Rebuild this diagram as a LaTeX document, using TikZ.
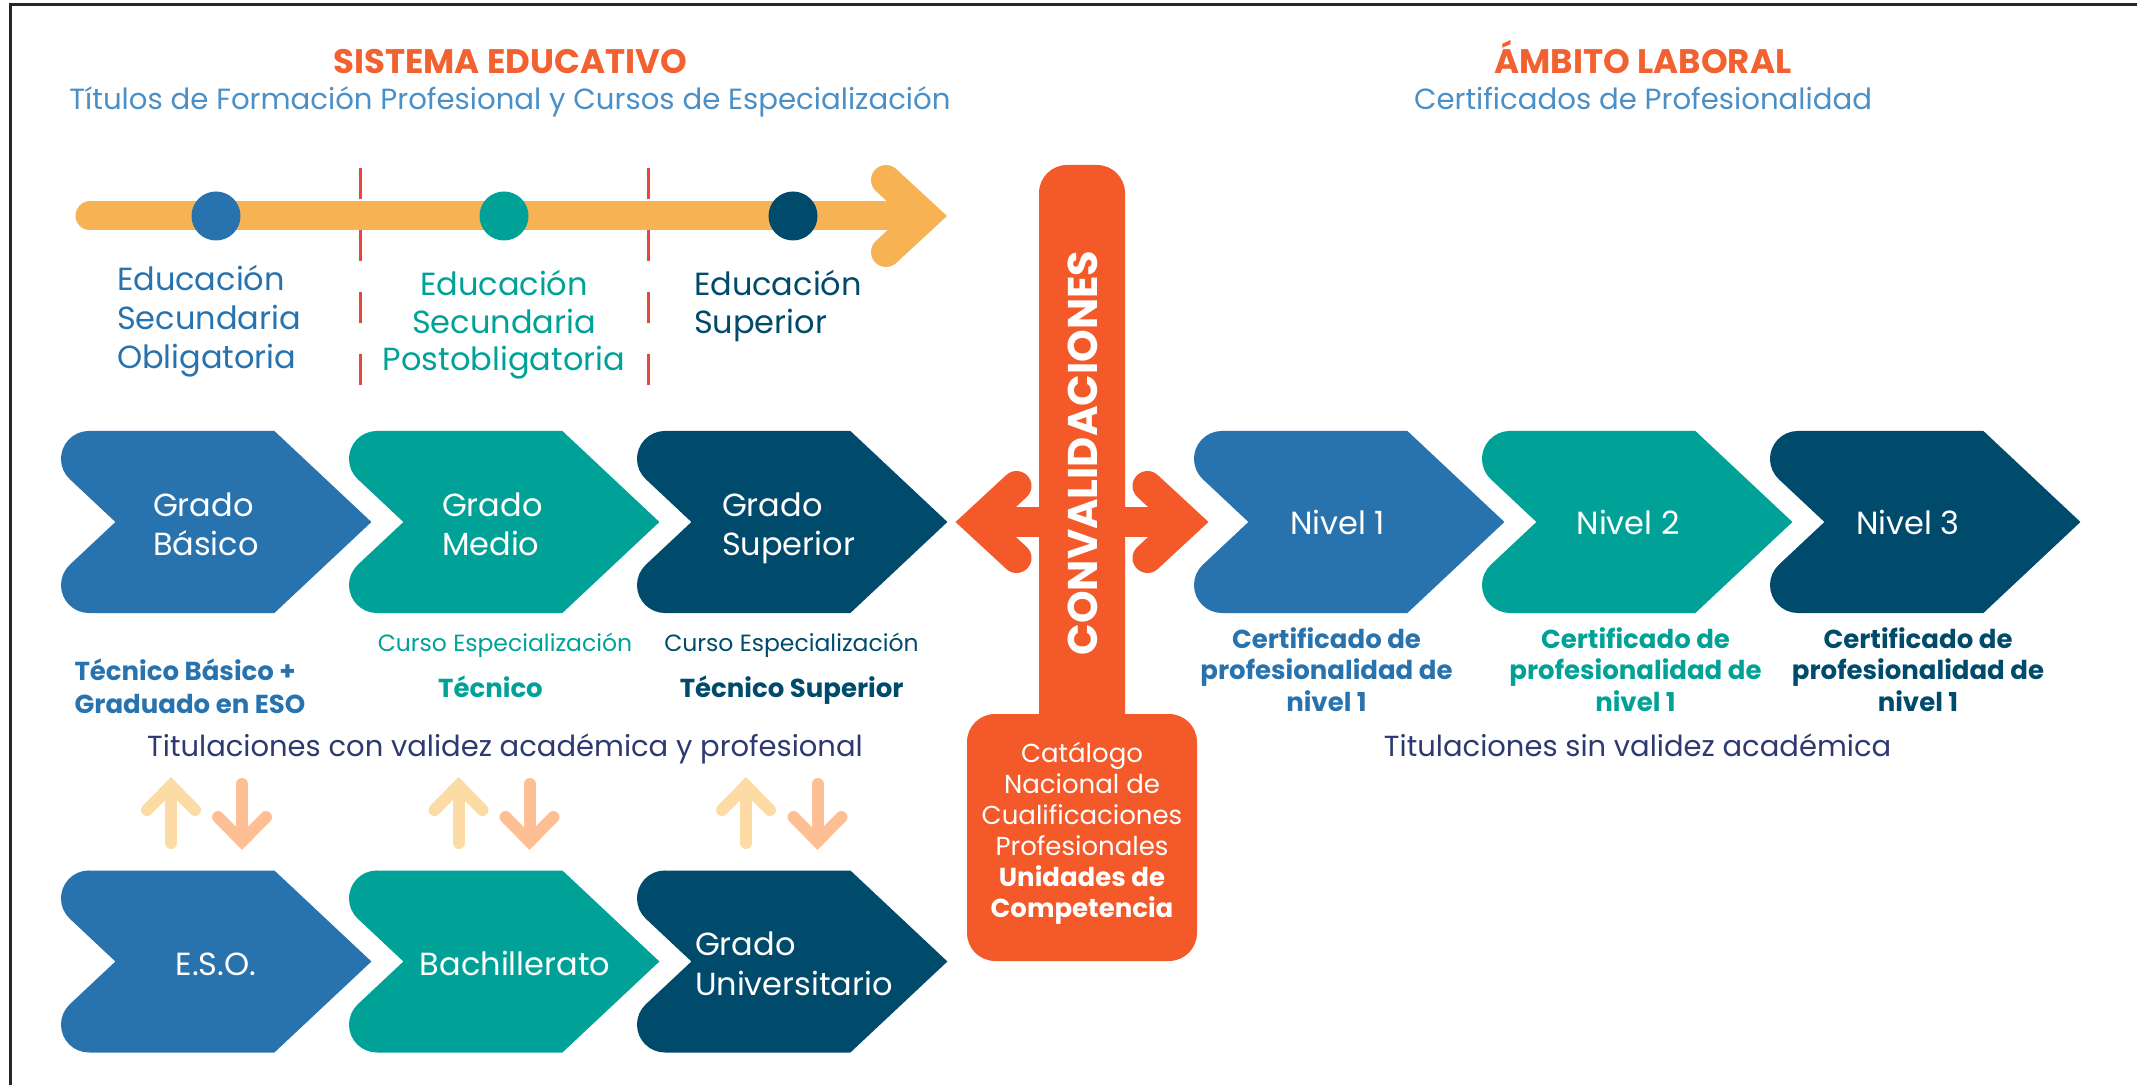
\documentclass[tikz,border=0pt]{standalone}
\usepackage{fontspec}
\setmainfont{Poppins}
\definecolor{blueC}{HTML}{2873AE}
\definecolor{tealC}{HTML}{00A298}
\definecolor{darkC}{HTML}{004B6B}
\definecolor{orangeC}{HTML}{F4592A}
\definecolor{titleC}{HTML}{F26130}
\definecolor{subC}{HTML}{4B8FC7}
\definecolor{navyC}{HTML}{2D3970}
\definecolor{yelC}{HTML}{F7B254}
\definecolor{dashC}{HTML}{E9453F}
\definecolor{upC}{HTML}{FDDBA5}
\definecolor{downC}{HTML}{FFBF95}
\newcommand\fsz[1]{\fontsize{#1}{#1}\selectfont}
% chevron: #1 leftmost x, #2 centre y, #3 colour
\newcommand\chevshape[3]{%
  \fill[#3] ({#1+27.9},{#2-91}) -- ({#1+213.4},{#2-91}) -- ({#1+310.4},#2)
    -- ({#1+213.4},{#2+91}) -- ({#1+27.9},{#2+91})
    arc[start angle=90,end angle=226.83,radius=27.9] -- ({#1+54.4},#2)
    -- ({#1+8.8},{#2-42.8}) arc[start angle=133.17,end angle=270,radius=27.9] -- cycle;}
\newcommand\uparr[1]{%
  \draw[upC,line width=6pt,line cap=round] (#1,843) -- (#1,785.6);
  \draw[upC,line width=6pt,line cap=round,line join=miter] ({#1-24},810) -- (#1,785.6) -- ({#1+24},810);}
\newcommand\downarr[1]{%
  \draw[downC,line width=6pt,line cap=round] (#1,784) -- (#1,841.4);
  \draw[downC,line width=6pt,line cap=round,line join=miter] ({#1-24},817) -- (#1,841.4) -- ({#1+24},817);}
\tikzset{
  txt/.style={inner sep=0pt,outer sep=0pt},
  ttl/.style={txt,anchor=base,text=titleC,font=\fsz{17}\bfseries},
  sub/.style={txt,anchor=base,text=subC,font=\fsz{14.6}},
  edu/.style={txt,font=\fsz{16}},
  chl/.style={txt,text=white,font=\fsz{16}},
  curso/.style={txt,anchor=base,font=\fsz{11.75}},
  bsm/.style={txt,font=\fsz{13}\bfseries},
  tit/.style={txt,anchor=base,text=navyC,font=\fsz{14.5}},
  cat/.style={txt,anchor=base,text=white,font=\fsz{13}},
}
\begin{document}
\begin{tikzpicture}[x=0.5pt,y=-0.5pt]
\useasboundingbox (0,0) rectangle (2137,1085);
% frame
\draw[line width=1.5pt,black!85] (10,1085) -- (10,5) -- (2137,5);
% titles
\node[ttl] (se) at (510,73.3) {SISTEMA EDUCATIVO};
\node[sub] (ses) at (510,110) {Títulos de Formación Profesional y Cursos de Especialización};
\node[ttl] (al) at (1643,73.3) {ÁMBITO LABORAL};
\node[sub] (als) at (1643,110) {Certificados de Profesionalidad};
% timeline
\draw[yelC,line width=14.5pt,line cap=round] (90,216) -- (925,216);
\draw[yelC,line width=15pt,line cap=round,line join=miter] (886,180) -- (924.9,216) -- (886,252);
\draw[dashC,line width=1.5pt,dash pattern=on 15.5pt off 15.5pt] (360,168) -- (360,390);
\draw[dashC,line width=1.5pt,dash pattern=on 15.5pt off 15.5pt] (648,168) -- (648,390);
\fill[blueC] (216,216) circle[radius=24.5];
\fill[tealC] (504,216) circle[radius=24.5];
\fill[darkC] (793,216) circle[radius=24.5];
% education stages
\node[edu,anchor=base west,text=blueC] (e1a) at (117,290.7) {Educación};
\node[edu,anchor=base west,text=blueC] (e1b) at (117,330) {Secundaria};
\node[edu,anchor=base west,text=blueC] (e1c) at (117,368.5) {Obligatoria};
\node[edu,anchor=base,text=tealC] (e2a) at (504,296) {Educación};
\node[edu,anchor=base,text=tealC] (e2b) at (504,333.5) {Secundaria};
\node[edu,anchor=base,text=tealC] (e2c) at (504,371) {Postobligatoria};
\node[edu,anchor=base west,text=darkC] (e3a) at (694,296) {Educación};
\node[edu,anchor=base west,text=darkC] (e3b) at (694,333.5) {Superior};
% row 1 chevrons
\chevshape{61}{522}{blueC}
\chevshape{349}{522}{tealC}
\chevshape{637}{522}{darkC}
\node[chl,anchor=base west] (gb1) at (153,516.7) {Grado};
\node[chl,anchor=base west] (gb2) at (153,555.2) {Básico};
\node[chl,anchor=base west] (gm1) at (442,516.7) {Grado};
\node[chl,anchor=base west] (gm2) at (442,555.2) {Medio};
\node[chl,anchor=base west] (gs1) at (722,516.7) {Grado};
\node[chl,anchor=base west] (gs2) at (722,555.2) {Superior};
% below row 1
\node[curso,text=tealC] (ce1) at (505,651.7) {Curso Especialización};
\node[curso,text=darkC] (ce2) at (791.5,651.7) {Curso Especialización};
\node[bsm,anchor=base west,text=blueC] (tb1) at (74.6,680) {Técnico Básico +};
\node[bsm,anchor=base west,text=blueC] (tb2) at (74.6,713) {Graduado en ESO};
\node[bsm,anchor=base,text=tealC] (tm) at (490.5,697.7) {Técnico};
\node[bsm,anchor=base,text=darkC] (ts) at (791.7,697.7) {Técnico Superior};
\node[tit] (tv1) at (505,756) {Titulaciones con validez académica y profesional};
% up / down arrows
\uparr{171}\downarr{242}
\uparr{458.5}\downarr{529.5}
\uparr{746}\downarr{817.5}
% row 2 chevrons
\chevshape{61}{961.5}{blueC}
\chevshape{349}{961.5}{tealC}
\chevshape{637}{961.5}{darkC}
\node[chl,anchor=base] (eso) at (216,975) {E.S.O.};
\node[chl,anchor=base] (bach) at (515,975) {Bachillerato};
\node[chl,anchor=base west] (gu1) at (695,955) {Grado};
\node[chl,anchor=base west] (gu2) at (695,995) {Universitario};
% convalidaciones
\fill[orangeC,rounded corners=14pt] (1039,730) -- (1039,165) -- (1125,165) -- (1125,730);
\fill[orangeC,rounded corners=14pt] (967,714) rectangle (1197,961);
\draw[orangeC,line width=15pt] (977,522) -- (1187,522);
\draw[orangeC,line width=15pt,line cap=round,line join=miter] (1016.5,486) -- (977.6,522) -- (1016.5,558);
\draw[orangeC,line width=15pt,line cap=round,line join=miter] (1147.5,486) -- (1186.4,522) -- (1147.5,558);
\node[txt,anchor=base,rotate=90,text=white,font=\fsz{20.75}\bfseries] (conv) at (1097,453) {CONVALIDACIONES};
\node[cat] (c1) at (1082,762) {Catálogo};
\node[cat] (c2) at (1082,793) {Nacional de};
\node[cat] (c3) at (1082,824) {Cualificaciones};
\node[cat] (c4) at (1082,855) {Profesionales};
\node[cat,font=\fsz{13}\bfseries] (c5) at (1082,886) {Unidades de};
\node[cat,font=\fsz{13}\bfseries] (c6) at (1082,917) {Competencia};
% nivel chevrons
\chevshape{1194}{522}{blueC}
\chevshape{1482}{522}{tealC}
\chevshape{1770}{522}{darkC}
\node[chl,anchor=base] (n1) at (1337.6,535) {Nivel 1};
\node[chl,anchor=base] (n2) at (1628,535) {Nivel 2};
\node[chl,anchor=base] (n3) at (1908,535) {Nivel 3};
\node[bsm,anchor=base,text=blueC] (p1a) at (1326.5,648.3) {Certificado de};
\node[bsm,anchor=base,text=blueC] (p1b) at (1326.5,679.5) {profesionalidad de};
\node[bsm,anchor=base,text=blueC] (p1c) at (1326.5,711.7) {nivel 1};
\node[bsm,anchor=base,text=tealC] (p2a) at (1635.5,648.3) {Certificado de};
\node[bsm,anchor=base,text=tealC] (p2b) at (1635.5,679.5) {profesionalidad de};
\node[bsm,anchor=base,text=tealC] (p2c) at (1635.5,711.7) {nivel 1};
\node[bsm,anchor=base,text=darkC] (p3a) at (1918,648.3) {Certificado de};
\node[bsm,anchor=base,text=darkC] (p3b) at (1918,679.5) {profesionalidad de};
\node[bsm,anchor=base,text=darkC] (p3c) at (1918,711.7) {nivel 1};
\node[tit] (tv2) at (1637.6,756) {Titulaciones sin validez académica};
\end{tikzpicture}
\end{document}
